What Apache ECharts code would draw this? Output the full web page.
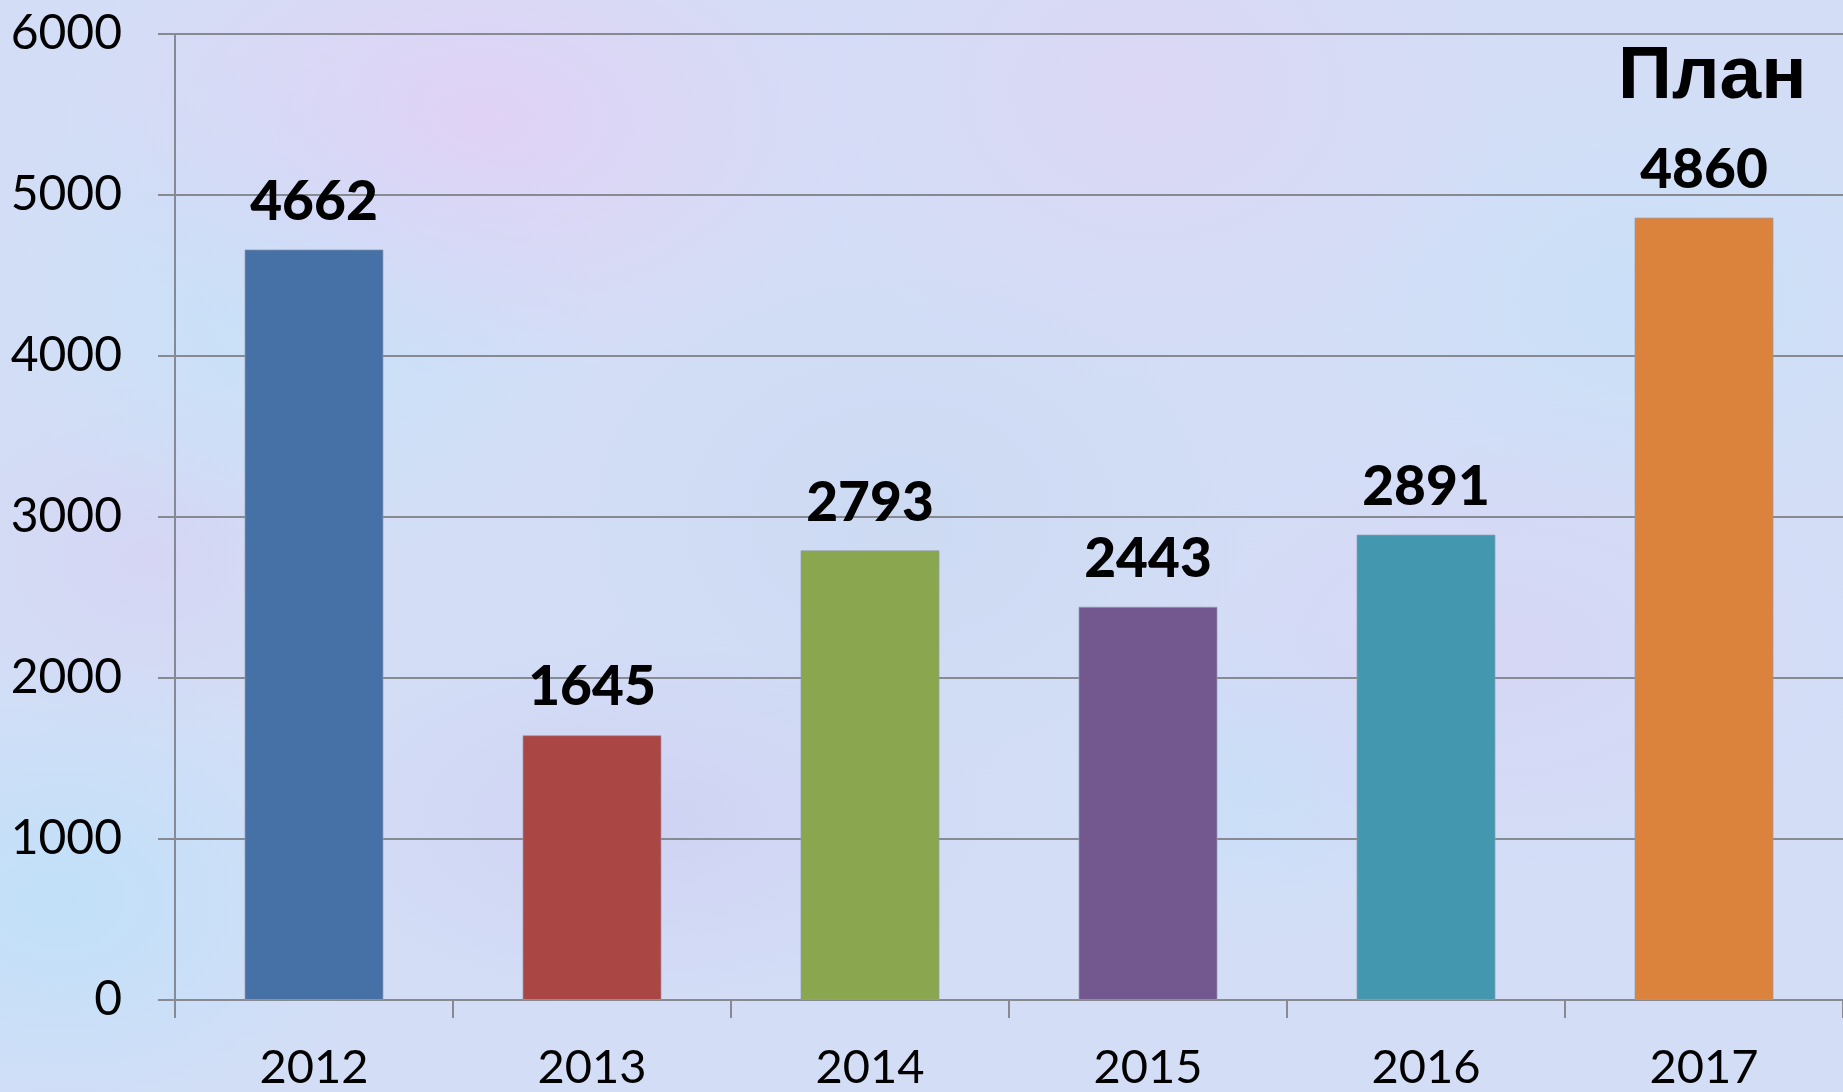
<!DOCTYPE html>
<html>
<head>
<meta charset="utf-8">
<script src="https://cdn.jsdelivr.net/npm/echarts@6/dist/echarts.min.js"></script>
<style>
html,body{margin:0;padding:0;width:1843px;height:1092px;overflow:hidden;}
body{
  background-color:#d3def6;
  background-image:
    radial-gradient(ellipse 420px 260px at 480px 120px, rgba(230,205,245,0.7), rgba(230,205,245,0) 100%),
    radial-gradient(ellipse 380px 300px at 1150px 90px, rgba(225,210,245,0.6), rgba(225,210,245,0) 100%),
    radial-gradient(ellipse 300px 260px at 300px 300px, rgba(190,228,250,0.6), rgba(190,228,250,0) 100%),
    radial-gradient(ellipse 360px 280px at 900px 520px, rgba(200,215,240,0.6), rgba(200,215,240,0) 100%),
    radial-gradient(ellipse 320px 240px at 60px 900px, rgba(185,225,250,0.7), rgba(185,225,250,0) 100%),
    radial-gradient(ellipse 420px 260px at 1500px 650px, rgba(215,210,245,0.6), rgba(215,210,245,0) 100%),
    radial-gradient(ellipse 320px 220px at 1650px 300px, rgba(195,225,248,0.6), rgba(195,225,248,0) 100%),
    radial-gradient(ellipse 380px 200px at 650px 820px, rgba(205,200,240,0.5), rgba(205,200,240,0) 100%),
    radial-gradient(ellipse 200px 160px at 1250px 780px, rgba(190,225,250,0.5), rgba(190,225,250,0) 100%),
    radial-gradient(ellipse 240px 180px at 150px 560px, rgba(215,205,240,0.5), rgba(215,205,240,0) 100%);
}
#chart{width:1843px;height:1092px;}
</style>
</head>
<body>
<div id="chart"></div>
<script>
const categories = ['2012', '2013', '2014', '2015', '2016', '2017'];
const values = [4662, 1645, 2793, 2443, 2891, 4860];
const yTicks = [0, 1000, 2000, 3000, 4000, 5000, 6000];
const annotation = 'План';

const barColors = ['#4571a6', '#aa4643', '#8aa64f', '#72588f', '#4398af', '#db833d'];

const chart = echarts.init(document.getElementById('chart'), null, {renderer: 'canvas'});
const gridColor = '#878a92';

chart.setOption({
  backgroundColor: 'transparent',
  animation: false,
  grid: {left: 175, right: 0, top: 34, bottom: 92, containLabel: false},
  xAxis: {
    type: 'category',
    data: categories,
    boundaryGap: true,
    axisLine: {show: true, lineStyle: {color: gridColor, width: 2}},
    axisTick: {show: true, length: 18, interval: 0, lineStyle: {color: gridColor, width: 2}},
    axisLabel: {color: '#000', fontSize: 47, fontFamily: 'Lato', margin: 44}
  },
  yAxis: {
    type: 'value',
    min: yTicks[0],
    max: yTicks[yTicks.length - 1],
    interval: yTicks[1] - yTicks[0],
    axisLine: {show: true, lineStyle: {color: gridColor, width: 2}},
    axisTick: {show: true, length: 17, lineStyle: {color: gridColor, width: 2}},
    splitLine: {show: true, lineStyle: {color: gridColor, width: 2}},
    axisLabel: {color: '#000', fontSize: 48, fontFamily: 'Lato', margin: 53, formatter: v => String(v)}
  },
  graphic: [{
    type: 'text',
    left: 1618,
    top: 40,
    style: {
      text: annotation,
      font: 'bold 75px "Liberation Sans"',
      fill: '#000'
    }
  }],
  series: [{
    type: 'bar',
    barWidth: '50%',
    data: values.map((v, i) => ({
      value: v,
      itemStyle: {color: barColors[i], borderColor: 'rgba(150,155,175,0.7)', borderWidth: 1}
    })),
    label: {
      show: true,
      position: 'top',
      distance: 20,
      color: '#000',
      fontSize: 55,
      fontWeight: 900,
      fontFamily: 'Lato'
    }
  }]
});
</script>
</body>
</html>
